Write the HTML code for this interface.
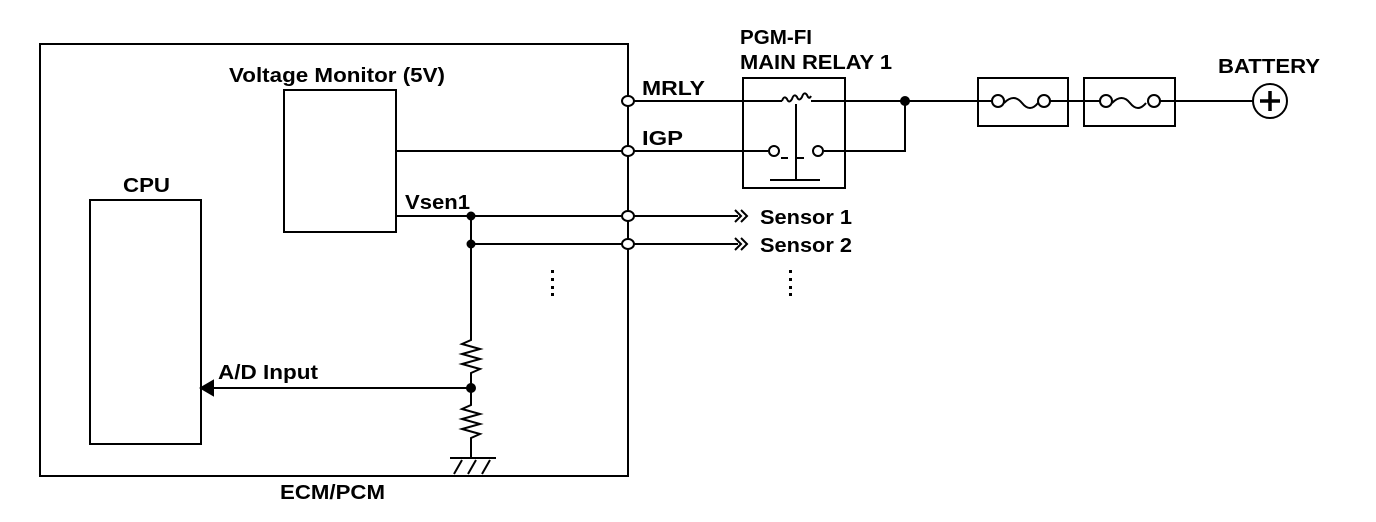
<!DOCTYPE html>
<html><head><style>body{margin:0;background:#fff}svg{display:block}text{font-family:"Liberation Sans",Arial,sans-serif;font-weight:bold;font-size:20px;fill:#000}</style></head>
<body>
<svg width="1376" height="522" viewBox="0 0 1376 522" stroke="#000" stroke-width="2" fill="none">
<rect x="40" y="44" width="588" height="432"/>
<rect x="284" y="90" width="112" height="142"/>
<rect x="90" y="200" width="111" height="244"/>
<rect x="743" y="78" width="102" height="110"/>
<rect x="978" y="78" width="90" height="48"/>
<rect x="1084" y="78" width="91" height="48"/>
<path d="M634 101H782"/>
<path d="M782 101 q2 -6 5 -2 q2 5 5 0 q2 -6 5 -2 q2 5 5 0 q2 -6 5 -2 q2 5 4 1"/>
<path d="M811 101H978"/>
<circle cx="905" cy="101" r="4" fill="#000"/>
<path d="M905 101V151H824"/>
<path d="M396 151H622M634 151H768"/>
<circle cx="774" cy="151" r="5"/>
<circle cx="818" cy="151" r="5"/>
<path d="M781 158H788M797 158H804M796 104V180M770 180H820"/>
<path d="M1068 101H1084M1175 101H1253"/>
<path d="M978 101 H992"/>
<circle cx="998" cy="101" r="6"/>
<path d="M1004 103 q10 -10 18 0 q8 10 16 0"/>
<circle cx="1044" cy="101" r="6"/>
<path d="M1050 101H1068"/>
<path d="M1084 101H1100"/>
<circle cx="1106" cy="101" r="6"/>
<path d="M1112 103 q10 -10 18 0 q8 10 16 0"/>
<circle cx="1154" cy="101" r="6"/>
<path d="M1160 101H1175"/>
<circle cx="1270" cy="101" r="17"/>
<path d="M1270 91V111M1260 101H1280" stroke-width="3.5"/>
<path d="M396 216H622M634 216H738M471 244H622M634 244H738"/>
<path d="M735 210l6 6l-6 6M741 210l6 6l-6 6M735 238l6 6l-6 6M741 238l6 6l-6 6"/>
<circle cx="471" cy="216" r="3.5" fill="#000"/>
<circle cx="471" cy="244" r="3.5" fill="#000"/>
<path d="M628 44V476" />
<ellipse cx="628" cy="101" rx="6" ry="5" fill="#fff"/>
<ellipse cx="628" cy="151" rx="6" ry="5" fill="#fff"/>
<ellipse cx="628" cy="216" rx="6" ry="5" fill="#fff"/>
<ellipse cx="628" cy="244" rx="6" ry="5" fill="#fff"/>
<path d="M471 216V340 l-9 4 l18 5 l-18 5 l18 5 l-18 5 l18 5 l-9 4 V405 l-9 4 l18 5 l-18 5 l18 5 l-18 5 l18 5 l-9 4 V458"/>
<circle cx="471" cy="388" r="4" fill="#000"/>
<path d="M450 458H496M462 460l-8 14M476 460l-8 14M490 460l-8 14"/>
<path d="M471 388H212"/>
<path d="M201 388l12 -7v14z" fill="#000"/>
<g fill="#000" stroke="none">
<rect x="551" y="270" width="3" height="3"/><rect x="551" y="278" width="3" height="3"/><rect x="551" y="286" width="3" height="3"/><rect x="551" y="293" width="3" height="3"/>
<rect x="789" y="270" width="3" height="3"/><rect x="789" y="278" width="3" height="3"/><rect x="789" y="286" width="3" height="3"/><rect x="789" y="293" width="3" height="3"/>
</g>
<g stroke="none">
<text x="229" y="82" textLength="216" lengthAdjust="spacingAndGlyphs">Voltage Monitor (5V)</text>
<text x="123" y="192" textLength="47" lengthAdjust="spacingAndGlyphs">CPU</text>
<text x="405" y="209" textLength="65" lengthAdjust="spacingAndGlyphs">Vsen1</text>
<text x="642" y="95" textLength="63" lengthAdjust="spacingAndGlyphs">MRLY</text>
<text x="642" y="145" textLength="41" lengthAdjust="spacingAndGlyphs">IGP</text>
<text x="740" y="44" textLength="72" lengthAdjust="spacingAndGlyphs">PGM-FI</text>
<text x="740" y="69" textLength="152" lengthAdjust="spacingAndGlyphs">MAIN RELAY 1</text>
<text x="1218" y="73" textLength="102" lengthAdjust="spacingAndGlyphs">BATTERY</text>
<text x="760" y="224" textLength="92" lengthAdjust="spacingAndGlyphs">Sensor 1</text>
<text x="760" y="252" textLength="92" lengthAdjust="spacingAndGlyphs">Sensor 2</text>
<text x="218" y="379" textLength="100" lengthAdjust="spacingAndGlyphs">A/D Input</text>
<text x="280" y="499" textLength="105" lengthAdjust="spacingAndGlyphs">ECM/PCM</text>
</g>
</svg>
</body></html>
